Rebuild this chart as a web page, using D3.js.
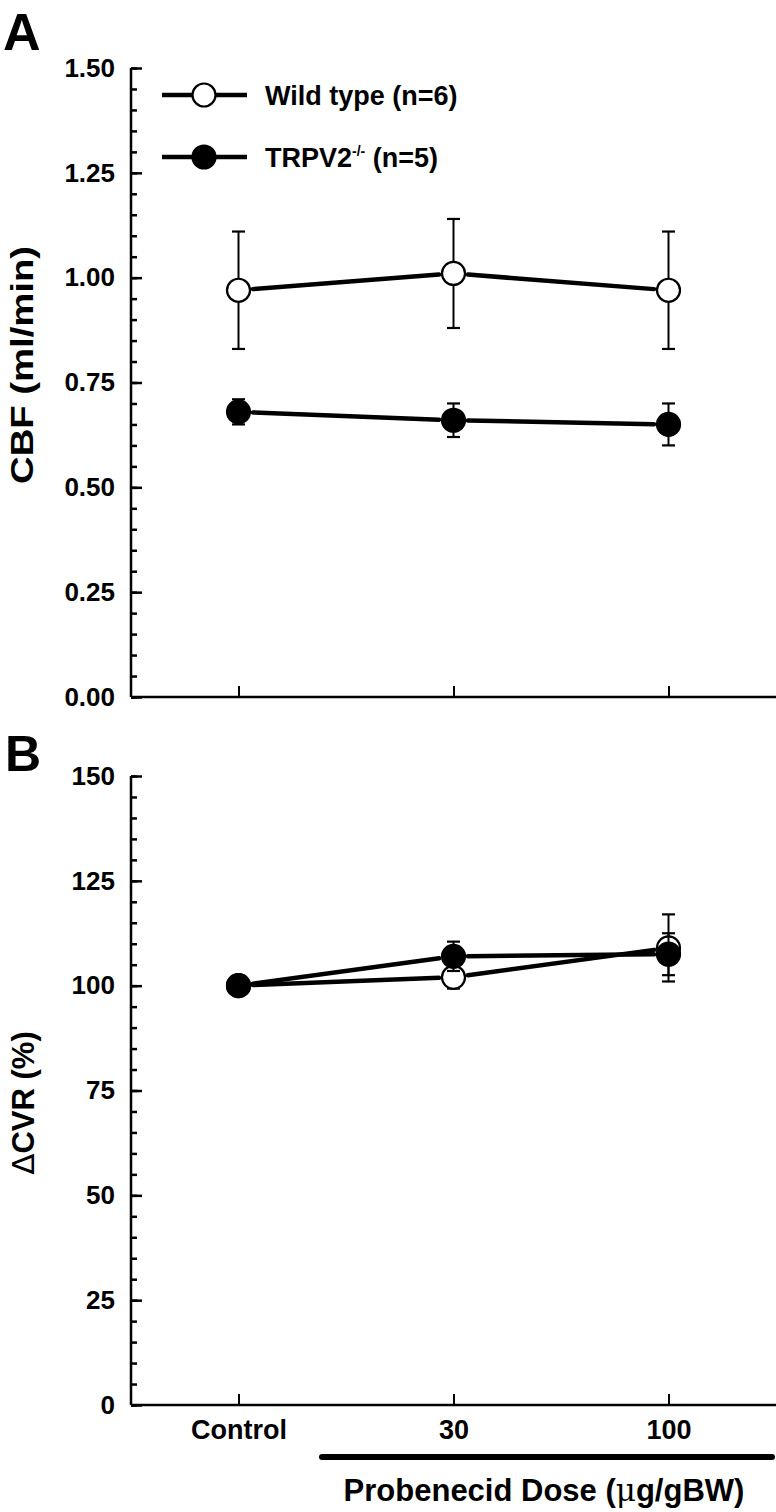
<!DOCTYPE html>
<html>
<head>
<meta charset="utf-8">
<script src="https://cdn.jsdelivr.net/npm/d3@7"></script>
<style>
  body { margin: 0; background: #fff; }
  svg { display: block; }
  text { font-family: "Liberation Sans", Arial, sans-serif; font-weight: bold; fill: #000; }
</style>
</head>
<body>
<svg id="chart" width="776" height="1512"></svg>
<script>
// ---- data ----
const categories = ["Control", "30", "100"];
const seriesNames = ["Wild type (n=6)", "TRPV2"];

const wtCBF = [0.97, 1.01, 0.97];
const wtCBFErr = [0.14, 0.13, 0.14];
const koCBF = [0.68, 0.66, 0.65];
const koCBFErr = [0.03, 0.04, 0.05];

const wtCVR = [100, 102, 109];
const wtCVRErr = [0, 2.7, 8];
const koCVR = [100, 107, 107.5];
const koCVRErr = [0, 3.5, 5];

const cbfTicks = [0, 0.25, 0.5, 0.75, 1.0, 1.25, 1.5];
const cvrTicks = [0, 25, 50, 75, 100, 125, 150];

// ---- layout ----
const svg = d3.select("#chart");
const FONT = '"Liberation Sans", Arial, sans-serif';
const axisX0 = 131, axisX1 = 776;
const x = d3.scalePoint().domain(categories).range([axisX0, axisX1]).padding(0.5);

const yA = d3.scaleLinear().domain([0, 1.5]).range([697, 68]);
const yB = d3.scaleLinear().domain([0, 150]).range([1405, 776]);

const R = 11.5;

function drawPanel(y, ticks, minorStep, fmt, showXLabels) {
  const g = svg.append("g");
  const [d0, d1] = y.domain();
  const minor = d3.range(d0, d1 + minorStep / 2, minorStep);
  g.append("g").attr("transform", `translate(${axisX0},0)`)
    .call(d3.axisLeft(y).tickValues(minor).tickSize(-6).tickFormat(""))
    .call(s => s.select(".domain").remove())
    .call(s => s.selectAll("line").attr("stroke", "#000").attr("stroke-width", 2.5));
  g.append("g").attr("transform", `translate(${axisX0},0)`)
    .call(d3.axisLeft(y).tickValues(ticks).tickSize(-11).tickPadding(16).tickFormat(fmt))
    .call(s => s.select(".domain").attr("stroke", "#000").attr("stroke-width", 2.5)
        .attr("d", `M0,${y.range()[1]}V${y.range()[0]}`))
    .call(s => s.selectAll("line").attr("stroke", "#000").attr("stroke-width", 2.5))
    .call(s => s.selectAll("text").style("font-size", "26px").style("font-weight", "bold")
        .style("font-family", FONT).attr("fill", "#000"));
  g.append("g").attr("transform", `translate(0,${y.range()[0]})`)
    .call(d3.axisBottom(x).tickSize(-11).tickPadding(15).tickFormat(showXLabels ? (d => d) : ""))
    .call(s => s.select(".domain").attr("stroke", "#000").attr("stroke-width", 2.5)
        .attr("d", `M${axisX0},0H${axisX1}`))
    .call(s => s.selectAll("line").attr("stroke", "#000").attr("stroke-width", 2))
    .call(s => s.selectAll("text").style("font-size", "27px").style("font-weight", "bold")
        .style("font-family", FONT).attr("fill", "#000"));
  return g;
}

function drawSeries(y, vals, errs, filled) {
  const g = svg.append("g");
  const pts = categories.map((c, i) => ({ x: x(c), y: y(vals[i]), v: vals[i], e: errs[i] }));
  for (let i = 0; i < pts.length - 1; i++) {
    const a = pts[i], b = pts[i + 1];
    const dx = b.x - a.x, dy = b.y - a.y, L = Math.hypot(dx, dy);
    const gap = R + 3;
    g.append("line")
      .attr("x1", a.x + dx / L * gap).attr("y1", a.y + dy / L * gap)
      .attr("x2", b.x - dx / L * gap).attr("y2", b.y - dy / L * gap)
      .attr("stroke", "#000").attr("stroke-width", 4.5).attr("stroke-linecap", "round");
  }
  pts.filter(p => p.e > 0).forEach(p => {
    const yt = y(p.v + p.e), yb = y(p.v - p.e);
    g.append("line").attr("x1", p.x).attr("x2", p.x).attr("y1", yt).attr("y2", yb)
      .attr("stroke", "#000").attr("stroke-width", 2);
    [yt, yb].forEach(yy => g.append("line").attr("x1", p.x - 6.5).attr("x2", p.x + 6.5)
      .attr("y1", yy).attr("y2", yy).attr("stroke", "#000").attr("stroke-width", 2.2));
  });
  g.selectAll("circle").data(pts).join("circle")
    .attr("cx", d => d.x).attr("cy", d => d.y).attr("r", R)
    .attr("fill", filled ? "#000" : "#fff").attr("stroke", "#000").attr("stroke-width", 2.2);
}

// ---- Panel A ----
drawPanel(yA, cbfTicks, 0.05, d3.format(".2f"), false);
drawSeries(yA, wtCBF, wtCBFErr, false);
drawSeries(yA, koCBF, koCBFErr, true);

// ---- Panel B ----
drawPanel(yB, cvrTicks, 5, d3.format("d"), true);
drawSeries(yB, wtCVR, wtCVRErr, false);
drawSeries(yB, koCVR, koCVRErr, true);

// ---- panel letters ----
svg.append("text").attr("x", 3).attr("y", 50).style("font-size", "52px").text("A");
svg.append("text").attr("x", 5).attr("y", 771).style("font-size", "50px").text("B");

// ---- y titles ----
svg.append("text")
  .attr("transform", `translate(33,365) rotate(-90)`)
  .attr("text-anchor", "middle").style("font-size", "32px")
  .attr("textLength", 238).attr("lengthAdjust", "spacingAndGlyphs")
  .text("CBF (ml/min)");

const tB = svg.append("text")
  .attr("transform", `translate(34,1103) rotate(-90)`)
  .attr("text-anchor", "middle").style("font-size", "31px");
tB.append("tspan").style("font-weight", "normal").style("font-family", '"DejaVu Sans", sans-serif').text("\u0394");
tB.append("tspan").text("CVR (%)");

// ---- legend ----
const legend = svg.append("g");
const legendRows = [{ y: 95, filled: false }, { y: 157, filled: true }];
legendRows.forEach(r => {
  legend.append("line").attr("x1", 162).attr("x2", 247).attr("y1", r.y).attr("y2", r.y)
    .attr("stroke", "#000").attr("stroke-width", 4.5);
  legend.append("circle").attr("cx", 204).attr("cy", r.y).attr("r", R)
    .attr("fill", r.filled ? "#000" : "#fff").attr("stroke", "#000").attr("stroke-width", 2.2);
});
legend.append("text").attr("x", 265).attr("y", 105).style("font-size", "27px").text(seriesNames[0]);
const l2 = legend.append("text").attr("x", 265).attr("y", 167).style("font-size", "27px");
l2.append("tspan").text(seriesNames[1]);
l2.append("tspan").attr("dy", -11).style("font-size", "14px").text("-/-");
l2.append("tspan").attr("dy", 11).text(" (n=5)");

// ---- treatment bar + x title ----
svg.append("line").attr("x1", 322).attr("x2", 772).attr("y1", 1457).attr("y2", 1457)
  .attr("stroke", "#000").attr("stroke-width", 6).attr("stroke-linecap", "round");
const xt = svg.append("text").attr("x", 544).attr("y", 1501).attr("text-anchor", "middle")
  .style("font-size", "31px");
xt.append("tspan").text("Probenecid Dose (");
xt.append("tspan").style("font-weight", "normal").style("font-family", '"DejaVu Serif", serif').text("\u03bc");
xt.append("tspan").text("g/gBW)");
</script>
</body>
</html>
